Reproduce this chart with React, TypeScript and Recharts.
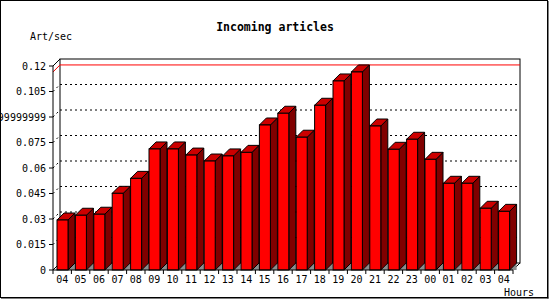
import React from "react";
import { BarChart, Bar, XAxis, YAxis, ReferenceArea, ReferenceLine } from "recharts";

// ---- data ----
const hours = ["04", "05", "06", "07", "08", "09", "10", "11", "12", "13", "14", "15", "16", "17", "18", "19", "20", "21", "22", "23", "00", "01", "02", "03", "04"];
const artPerSec = [0.0294, 0.0322, 0.0328, 0.0451, 0.0539, 0.0712, 0.0712, 0.0676, 0.0641, 0.0671, 0.0692, 0.0853, 0.0922, 0.0781, 0.0969, 0.1112, 0.1165, 0.0847, 0.0710, 0.0769, 0.0651, 0.0510, 0.0510, 0.0363, 0.0345];
const yTicks = [0, 0.015, 0.03, 0.045, 0.06, 0.075, 0.09, 0.105, 0.12];
const yTickLabels = ["0", "0.015", "0.03", "0.045", "0.06", "0.075", "0.08999999999999999", "0.105", "0.12"];
const gridValues = [0.015, 0.03, 0.045, 0.06, 0.075, 0.09, 0.105];
const maxValue = Math.max(...artPerSec);

const data = hours.map((h, i) => ({ idx: i, value: artPerSec[i] }));

// ---- layout ----
const W = 550;
const H = 300;
const M_TOP = 66;
const M_RIGHT = 37;
const Y_AXIS_W = 53;
const X_AXIS_H = 30;
const AXIS_Y = H - X_AXIS_H;
const PLOT_W = W - Y_AXIS_W - M_RIGHT;
const SLOT = PLOT_W / hours.length;
const D = 7;
const FONT = "'DejaVu Sans Mono', monospace";

const Bar3D = (p: any) => {
  const { x, y, width: w, height: h } = p;
  if (h == null || w == null) return null;
  const b = y + h;
  return (
    <g>
      <polygon points={`${x + w},${b} ${x + w + D},${b - D} ${x + w + D},${b}`} fill="#8c8c8c" stroke="none" />
      <polygon
        points={`${x + w},${y} ${x + w + D},${y - D} ${x + w + D},${b - D} ${x + w},${b}`}
        fill="#800000"
        stroke="#000"
        strokeWidth={1}
      />
      <polygon
        points={`${x},${y} ${x + D},${y - D} ${x + w + D},${y - D} ${x + w},${y}`}
        fill="#cc0000"
        stroke="#000"
        strokeWidth={1}
      />
      <rect x={x} y={y} width={w} height={h} fill="#ff0000" stroke="#000" strokeWidth={1} />
    </g>
  );
};

const BackWall = (p: any) => {
  const { x, y, width: w, height: h } = p;
  if (x == null) return null;
  return (
    <g>
      <rect x={x + D} y={y - D} width={w} height={h} fill="#fff" stroke="#000" strokeWidth={1} />
      <line x1={x} y1={y} x2={x + D} y2={y - D} stroke="#000" />
      <line x1={x} y1={y + h} x2={x + D} y2={y + h - D} stroke="#000" />
      <line x1={x + w} y1={y + h} x2={x + w + D} y2={y + h - D} stroke="#000" />
    </g>
  );
};

const BackGridLine = (p: any) => {
  const { x1, y1, x2, y2 } = p;
  if (x1 == null) return null;
  return (
    <g>
      <line x1={x1 + D} y1={y1 - D} x2={x2 + D} y2={y2 - D} stroke="#000" strokeDasharray="2 3" />
      <line x1={x1} y1={y1} x2={x1 + D} y2={y1 - D} stroke="#000" strokeDasharray="2 3" />
    </g>
  );
};

const MaxLine = (p: any) => {
  const { x1, y1, x2, y2 } = p;
  if (x1 == null) return null;
  return (
    <g>
      <line x1={x1 + D} y1={y1 - D} x2={x2 + D} y2={y2 - D} stroke="#ff0000" />
      <line x1={x1} y1={y1} x2={x1 + D} y2={y1 - D} stroke="#ff0000" />
    </g>
  );
};

const XTick = (p: any) => {
  const { x, index, payload } = p;
  const half = SLOT / 2;
  const i = payload && payload.value != null ? payload.value : index;
  return (
    <g>
      <line x1={x - half} y1={AXIS_Y} x2={x - half} y2={AXIS_Y + 4} stroke="#000" />
      {index === hours.length - 1 && <line x1={x + half} y1={AXIS_Y} x2={x + half} y2={AXIS_Y + 4} stroke="#000" />}
      <text x={x} y={AXIS_Y + 13} textAnchor="middle" fontFamily={FONT} fontSize={10} fill="#000">
        {hours[i]}
      </text>
    </g>
  );
};

const yLabel = (v: number) => {
  const k = yTicks.findIndex((t) => Math.abs(t - v) < 1e-9);
  return k >= 0 ? yTickLabels[k] : String(v);
};

export default function App() {
  return (
    <div style={{ position: "absolute", left: 0, top: 0, width: W, height: H, background: "#fff" }}>
      <BarChart
        width={W}
        height={H}
        data={data}
        margin={{ top: M_TOP, right: M_RIGHT, bottom: 0, left: 0 }}
        barSize={11}
      >
        <XAxis
          dataKey="idx"
          type="category"
          height={X_AXIS_H}
          interval={0}
          tickLine={false}
          axisLine={{ stroke: "#000" }}
          tick={<XTick />}
        />
        <YAxis
          type="number"
          domain={[0, 0.12]}
          ticks={yTicks}
          interval={0}
          width={Y_AXIS_W}
          tickSize={4}
          tickMargin={3}
          tickFormatter={yLabel}
          tick={{ fontSize: 10, fontFamily: FONT, fill: "#000" }}
          tickLine={{ stroke: "#000" }}
          axisLine={{ stroke: "#000" }}
        />
        <ReferenceArea y1={0} y2={0.12} shape={<BackWall />} ifOverflow="visible" zIndex={-90} />
        {gridValues.map((v) => (
          <ReferenceLine key={v} y={v} shape={<BackGridLine />} ifOverflow="visible" zIndex={-80} />
        ))}
        <ReferenceLine y={maxValue} shape={<MaxLine />} ifOverflow="visible" zIndex={-70} />
        <Bar dataKey="value" shape={<Bar3D />} isAnimationActive={false} />
      </BarChart>
      <svg width={W} height={H} style={{ position: "absolute", left: 0, top: 0, pointerEvents: "none" }}>
        <text x={275} y={31} textAnchor="middle" fontFamily={FONT} fontWeight="bold" fontSize={11.5} fill="#000">
          Incoming articles
        </text>
        <text x={30} y={40} fontFamily={FONT} fontSize={10} fill="#000">
          Art/sec
        </text>
        <text x={504} y={296} fontFamily={FONT} fontSize={10} fill="#000">
          Hours
        </text>
        <rect x={0.5} y={0.5} width={547} height={297} fill="none" stroke="#000" strokeWidth={1} />
        <rect x={547.5} y={1} width={1} height={297.5} fill="#000" />
        <rect x={1} y={297.5} width={547.5} height={1} fill="#000" />
      </svg>
    </div>
  );
}
